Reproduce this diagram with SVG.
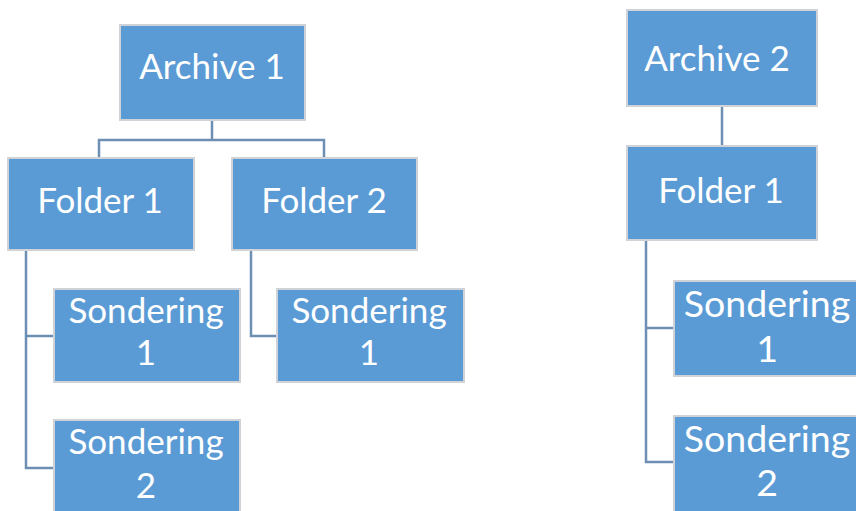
<svg xmlns="http://www.w3.org/2000/svg" width="856" height="511" viewBox="0 0 856 511">
<style>
.box{fill:#5b9bd5;stroke:#cfd3d8;stroke-width:2}
.t{font-family:Lato,"Open Sans",sans-serif;font-size:35px;fill:#ffffff;text-anchor:middle}
.big{font-size:37.5px}
.c{fill:none;stroke:#6d8fb3;stroke-width:2.5}
</style>
<rect width="856" height="511" fill="#ffffff"/>
<g id="connectors">
<path class="c" d="M212 120V140M99 158V140H324V158"/>
<path class="c" d="M26 250V468H54M26 336H54"/>
<path class="c" d="M251 250V336H277"/>
<path class="c" d="M722 106V146"/>
<path class="c" d="M646 240V462H674M646 328H674"/>
</g>
<g id="archive1"><rect class="box" x="120" y="25" width="185" height="95"/><text class="t" x="212" y="79">Archive 1</text></g>
<g id="folder1a"><rect class="box" x="8" y="158" width="186" height="92"/><text class="t" x="100" y="213">Folder 1</text></g>
<g id="folder2a"><rect class="box" x="232" y="158" width="185" height="92"/><text class="t" x="324" y="213">Folder 2</text></g>
<g id="sond1a"><rect class="box" x="54" y="289" width="186" height="93"/><text class="t" x="146" y="323">Sondering</text><text class="t" x="146" y="365">1</text></g>
<g id="sond2a"><rect class="box" x="54" y="420" width="186" height="100"/><text class="t" x="146" y="454">Sondering</text><text class="t" x="146" y="498">2</text></g>
<g id="sond1b"><rect class="box" x="277" y="289" width="187" height="93"/><text class="t" x="369" y="323">Sondering</text><text class="t" x="369" y="365">1</text></g>
<g id="archive2"><rect class="box" x="627" y="10" width="190" height="96"/><text class="t" x="717" y="71">Archive 2</text></g>
<g id="folder1b"><rect class="box" x="627" y="146" width="190" height="94"/><text class="t" x="721" y="203">Folder 1</text></g>
<g id="sond1c"><rect class="box" x="674" y="281" width="190" height="95"/><text class="t big" x="767" y="317">Sondering</text><text class="t big" x="767" y="362">1</text></g>
<g id="sond2c"><rect class="box" x="674" y="416" width="190" height="100"/><text class="t big" x="767" y="452">Sondering</text><text class="t big" x="767" y="496">2</text></g>
</svg>
